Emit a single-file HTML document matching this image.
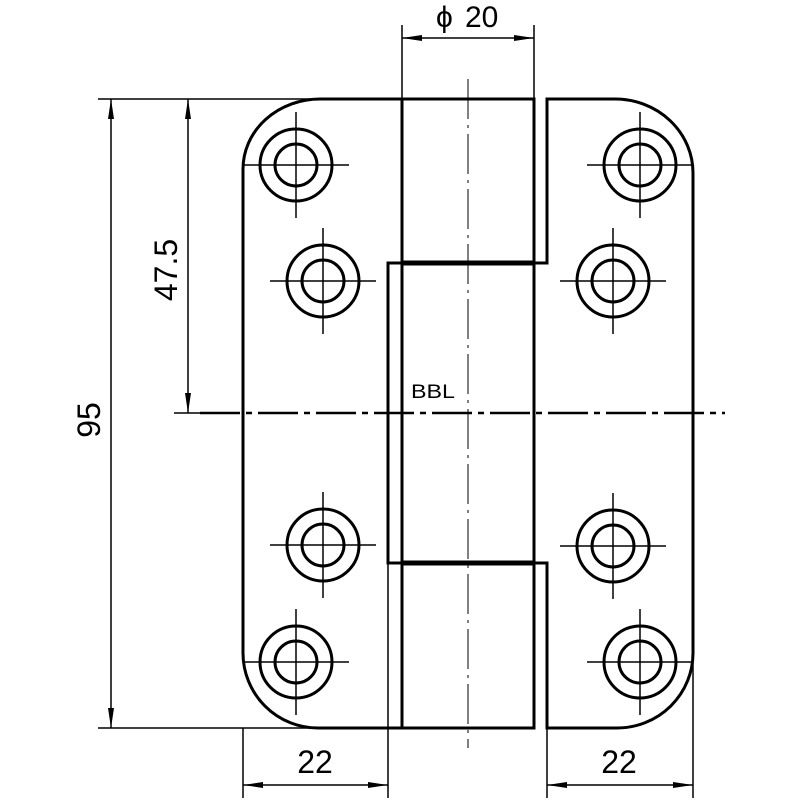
<!DOCTYPE html>
<html><head><meta charset="utf-8"><style>html,body{margin:0;padding:0;background:#fff}svg{display:block}</style></head>
<body>
<svg width="800" height="800" viewBox="0 0 800 800" xmlns="http://www.w3.org/2000/svg">
<defs>
<g id="hole">
<circle r="36" fill="none" stroke="#000" stroke-width="3"/>
<circle r="21" fill="none" stroke="#000" stroke-width="3"/>
<line x1="-53" y1="0" x2="53" y2="0" stroke="#000" stroke-width="1.5"/>
<line x1="0" y1="-53" x2="0" y2="53" stroke="#000" stroke-width="1.5"/>
</g>
<marker id="ar" viewBox="0 0 20 8" refX="20" refY="4" markerWidth="20" markerHeight="8" orient="auto-start-reverse" markerUnits="userSpaceOnUse">
<path d="M0,1 L20,4 L0,7 Z" fill="#000"/>
</marker>
</defs>
<g fill="none" stroke="#000" stroke-width="3">
<path d="M402,99 L320,99 A77,70 0 0 0 243,169 L243,653 A75,75 0 0 0 318,728 L402,728"/>
<path d="M402,263 L388,263 L388,563 L402,563"/>
<path d="M402,99 L534,99 L534,263"/>
<line x1="402" y1="99" x2="402" y2="728"/>
<line x1="534" y1="263" x2="534" y2="563"/>
<path d="M534,563 L534,728 L402,728"/>
<path d="M534,263 L547,263 L547,99 L615,99 A78,74 0 0 1 693,173 L693,653 A76,75 0 0 1 617,728 L547,728 L547,563 L534,563"/>
</g>
<line x1="402" y1="263" x2="534" y2="263" stroke="#000" stroke-width="5"/>
<line x1="402" y1="563" x2="534" y2="563" stroke="#000" stroke-width="5"/>
<use href="#hole" x="296" y="165"/>
<use href="#hole" x="323" y="281"/>
<use href="#hole" x="323" y="545"/>
<use href="#hole" x="296" y="662"/>
<use href="#hole" x="640" y="165"/>
<use href="#hole" x="613" y="281"/>
<use href="#hole" x="613" y="546"/>
<use href="#hole" x="640" y="662"/>
<line x1="468" y1="79" x2="468" y2="748" stroke="#000" stroke-width="1" stroke-dasharray="40,6,3,6"/>
<line x1="200" y1="413" x2="725" y2="413" stroke="#000" stroke-width="2.5" stroke-dasharray="40,6,6,6"/>
<g stroke="#000" stroke-width="1.5" fill="none">
<line x1="98" y1="99" x2="320" y2="99"/>
<line x1="98" y1="728" x2="318" y2="728"/>
<line x1="174" y1="413" x2="200" y2="413"/>
<line x1="111" y1="99" x2="111" y2="728" marker-start="url(#ar)" marker-end="url(#ar)"/>
<line x1="188" y1="99" x2="188" y2="413" marker-start="url(#ar)" marker-end="url(#ar)"/>
<line x1="402" y1="25" x2="402" y2="99"/>
<line x1="534" y1="25" x2="534" y2="99"/>
<line x1="402" y1="38" x2="534" y2="38" marker-start="url(#ar)" marker-end="url(#ar)"/>
<line x1="243" y1="728" x2="243" y2="798"/>
<line x1="388" y1="563" x2="388" y2="798"/>
<line x1="547" y1="728" x2="547" y2="798"/>
<line x1="693" y1="653" x2="693" y2="798"/>
<line x1="243" y1="785" x2="388" y2="785" marker-start="url(#ar)" marker-end="url(#ar)"/>
<line x1="547" y1="785" x2="693" y2="785" marker-start="url(#ar)" marker-end="url(#ar)"/>
</g>
<g font-family="Liberation Sans, sans-serif" fill="#000" font-size="32">
<text x="436" y="27" font-size="30">ϕ</text>
<text x="465" y="27" font-size="30">20</text>
<text x="315" y="773" text-anchor="middle">22</text>
<text x="619" y="773" text-anchor="middle">22</text>
<text transform="translate(100,420) rotate(-90)" text-anchor="middle">95</text>
<text transform="translate(177,270) rotate(-90)" text-anchor="middle">47.5</text>
<text x="411" y="398" font-size="19" textLength="44" lengthAdjust="spacingAndGlyphs">BBL</text>
</g>
</svg>
</body></html>
